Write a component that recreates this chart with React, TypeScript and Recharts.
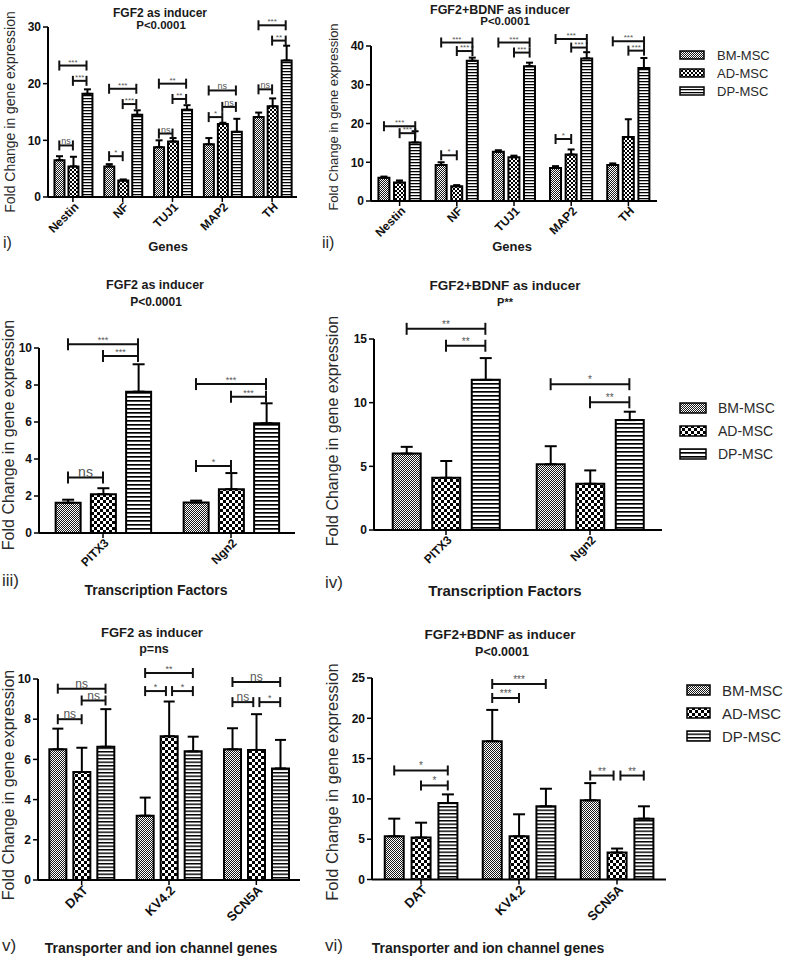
import React from 'react';
import { BarChart, Bar, XAxis, YAxis, ErrorBar, ReferenceLine } from 'recharts';

const FONT = '"Liberation Sans", Arial, Helvetica, sans-serif';
const series = ['BM-MSC', 'AD-MSC', 'DP-MSC'];
const keys = ['bm', 'ad', 'dp'];

// i) FGF2, neuronal genes
const genes = ['Nestin', 'NF', 'TUJ1', 'MAP2', 'TH'];
const g1Bm = [6.5, 5.4, 8.8, 9.3, 14.1];
const g1BmErr = [0.7, 0.4, 1.2, 1.1, 0.8];
const g1Ad = [5.4, 2.9, 9.8, 12.9, 16.0];
const g1AdErr = [1.7, 0.2, 0.6, 0.2, 1.4];
const g1Dp = [18.2, 14.5, 15.4, 11.5, 24.1];
const g1DpErr = [0.8, 0.8, 0.8, 2.3, 2.6];
const g1Ticks = [0, 10, 20, 30];
// [category, from bar, to bar, height, label]
const g1Sig: any[] = [
  [0, 0, 1, 9.1, 'ns'], [0, 0, 2, 23.2, '***'], [0, 1, 2, 20.5, '***'],
  [1, 0, 1, 7.2, '*'], [1, 0, 2, 19.1, '***'], [1, 1, 2, 16.4, '***'],
  [2, 0, 1, 11.2, 'ns'], [2, 0, 2, 20, '**'], [2, 1, 2, 17.3, '**'],
  [3, 0, 1, 14.1, '*'], [3, 0, 2, 18.8, 'ns'], [3, 1, 2, 15.9, 'ns'],
  [4, 0, 1, 19, 'ns'], [4, 0, 2, 30.3, '***'], [4, 1, 2, 27.6, '**'],
];

// ii) FGF2+BDNF, neuronal genes
const g2Bm = [6.0, 9.3, 12.7, 8.5, 9.3];
const g2BmErr = [0.3, 0.7, 0.4, 0.5, 0.4];
const g2Ad = [4.8, 3.8, 11.3, 12.0, 16.5];
const g2AdErr = [0.5, 0.3, 0.4, 1.3, 4.6];
const g2Dp = [15.1, 36.2, 34.8, 36.8, 34.3];
const g2DpErr = [2.9, 0.8, 0.9, 1.6, 2.6];
const g2Ticks = [0, 10, 20, 30, 40];
const g2Sig: any[] = [
  [0, 0, 2, 19.3, '***'], [0, 1, 2, 17.5, '***'],
  [1, 0, 1, 11.8, '*'], [1, 0, 2, 40.9, '***'], [1, 1, 2, 38.7, '***'],
  [2, 0, 2, 40.9, '***'], [2, 1, 2, 38.3, '***'],
  [3, 0, 1, 16, '*'], [3, 0, 2, 41.8, '***'], [3, 1, 2, 39.6, '***'],
  [4, 0, 2, 41.2, '***'], [4, 1, 2, 38.8, '***'],
];

// iii) FGF2, transcription factors
const tfs = ['PITX3', 'Ngn2'];
const t1Bm = [1.64, 1.65];
const t1BmErr = [0.16, 0.1];
const t1Ad = [2.1, 2.37];
const t1AdErr = [0.32, 0.87];
const t1Dp = [7.64, 5.93];
const t1DpErr = [1.48, 1.08];
const t1Ticks = [0, 2, 4, 6, 8, 10];
const t1Sig: any[] = [
  [0, 0, 1, 3.0, 'ns'], [0, 0, 2, 10.2, '***'], [0, 1, 2, 9.57, '***'],
  [1, 0, 1, 3.62, '*'], [1, 0, 2, 8.05, '***'], [1, 1, 2, 7.37, '***'],
];

// iv) FGF2+BDNF, transcription factors
const t2Bm = [6.0, 5.16];
const t2BmErr = [0.53, 1.42];
const t2Ad = [4.1, 3.63];
const t2AdErr = [1.32, 1.05];
const t2Dp = [11.79, 8.63];
const t2DpErr = [1.71, 0.66];
const t2Ticks = [0, 5, 10, 15];
const t2Sig: any[] = [
  [0, 0, 2, 15.8, '**'], [0, 1, 2, 14.47, '**'],
  [1, 0, 2, 11.45, '*'], [1, 1, 2, 10.03, '**'],
];

// v) FGF2, transporter and ion channel genes
const ions = ['DAT', 'KV4.2', 'SCN5A'];
const c1Bm = [6.5, 3.2, 6.5];
const c1BmErr = [1.03, 0.9, 1.05];
const c1Ad = [5.37, 7.15, 6.47];
const c1AdErr = [1.21, 1.73, 1.78];
const c1Dp = [6.63, 6.4, 5.55];
const c1DpErr = [1.87, 0.73, 1.42];
const c1Ticks = [0, 2, 4, 6, 8, 10];
const c1Sig: any[] = [
  [0, 0, 1, 8.0, 'ns'], [0, 0, 2, 9.52, 'ns'], [0, 1, 2, 8.93, 'ns'],
  [1, 0, 2, 10.3, '**'], [1, 0, 1, 9.4, '*'], [1, 1, 2, 9.4, '*'],
  [2, 0, 2, 9.85, 'ns'], [2, 0, 1, 8.85, 'ns'], [2, 1, 2, 8.85, '*'],
];

// vi) FGF2+BDNF, transporter and ion channel genes
const c2Bm = [5.36, 17.16, 9.82];
const c2BmErr = [2.19, 3.88, 2.14];
const c2Ad = [5.2, 5.36, 3.34];
const c2AdErr = [1.85, 2.73, 0.5];
const c2Dp = [9.49, 9.08, 7.55];
const c2DpErr = [1.07, 2.18, 1.53];
const c2Ticks = [0, 5, 10, 15, 20, 25];
const c2Sig: any[] = [
  [0, 0, 2, 13.53, '*'], [0, 1, 2, 11.67, '*'],
  [1, 0, 2, 24.26, '***'], [1, 0, 1, 22.52, '***'],
  [2, 0, 1, 12.9, '**'], [2, 1, 2, 12.9, '**'],
];

const rowsOf = (cats: string[], vals: number[][], errs: number[][]) =>
  cats.map((name, i) => {
    const r: any = { name };
    keys.forEach((k, s) => {
      r[k] = vals[s][i];
      r[k + 'Err'] = [0, errs[s][i]];
    });
    return r;
  });

// bar layout inside a category band
const CAT_GAP = 0.13;
const BAR_GAP = 0.08;
const BAR_W = (1 - 2 * CAT_GAP - 2 * BAR_GAP) / 3;
const POS = [0, 1, 2].map((k) => CAT_GAP + BAR_W / 2 + k * (BAR_W + BAR_GAP));

const Patterns = ({ id, check, stripe }: any) => (
  <>
    <pattern id={`${id}-bm`} patternUnits="userSpaceOnUse" width={2} height={2}>
      <rect width={2} height={2} fill="#fff" />
      <rect width={1} height={1} fill="#1a1a1a" />
      <rect x={1} y={1} width={1} height={1} fill="#1a1a1a" />
    </pattern>
    <pattern id={`${id}-ad`} patternUnits="userSpaceOnUse" width={check * 2} height={check * 2}>
      <rect width={check * 2} height={check * 2} fill="#fff" />
      <rect width={check} height={check} fill="#000" />
      <rect x={check} y={check} width={check} height={check} fill="#000" />
    </pattern>
    <pattern id={`${id}-dp`} patternUnits="userSpaceOnUse" width={4} height={stripe}>
      <rect width={4} height={stripe} fill="#fff" />
      <rect width={4} height={stripe * 0.42} fill="#000" />
    </pattern>
  </>
);

const PAT = [
  { id: 'pa', check: 2, stripe: 3 },
  { id: 'pb', check: 3, stripe: 4 },
  { id: 'pc', check: 3, stripe: 3.5 },
];

const CatTick = (props: any) => {
  const { x, y, payload, fs } = props;
  return (
    <g transform={`translate(${x},${y})`}>
      <text
        x={0}
        y={0}
        dy={fs * 0.6}
        dx={2}
        textAnchor="end"
        transform="rotate(-45)"
        fontSize={fs}
        fontWeight="bold"
        fill="#111"
        fontFamily={FONT}
      >
        {payload.value}
      </text>
    </g>
  );
};

const Panel = ({ box, cats, rows, ticks, sig, pat, capW, tickFs, starFs, nsFs, capPx }: any) => {
  const YW = 32;
  const MT = 40;
  const XH = 60;
  const MR = 6;
  const n = cats.length;
  // hidden helper axis spans the plot width with domain [0, n - 1]
  const toNum = (v: number) => (v * (n - 1)) / n;
  const max = ticks[ticks.length - 1];
  const capH = capPx / (box.h / max);
  const lines: any[] = [];
  sig.forEach(([c, a, b, y, text]: any, k: number) => {
    const twin = sig.some(
      (o: any, j: number) => j !== k && o[0] === c && Math.abs(o[3] - y) < 0.01
    );
    const ins = twin ? 0.035 : 0;
    const x1 = toNum(c + POS[a] + (a === 1 ? ins : 0));
    const x2 = toNum(c + POS[b] - (b === 1 ? ins : 0));
    const common = {
      xAxisId: 'num',
      stroke: '#111',
      strokeWidth: 2,
      ifOverflow: 'visible' as const,
    };
    lines.push(
      <ReferenceLine
        key={`h${k}`}
        {...common}
        segment={[{ x: x1, y }, { x: x2, y }]}
        label={{
          value: text,
          position: 'top',
          offset: 1,
          fill: '#555',
          stroke: 'none',
          fontSize: text === 'ns' ? nsFs : starFs,
          fontFamily: FONT,
        }}
      />
    );
    lines.push(
      <ReferenceLine
        key={`l${k}`}
        {...common}
        segment={[{ x: x1, y: y - capH }, { x: x1, y: y + capH }]}
      />
    );
    lines.push(
      <ReferenceLine
        key={`r${k}`}
        {...common}
        segment={[{ x: x2, y: y - capH }, { x: x2, y: y + capH }]}
      />
    );
  });
  return (
    <div style={{ position: 'absolute', left: box.x - YW, top: box.y - MT }}>
      <BarChart
        width={YW + box.w + MR}
        height={MT + box.h + XH}
        data={rows}
        margin={{ top: MT, right: MR, left: 0, bottom: 0 }}
        barCategoryGap={`${CAT_GAP * 100}%`}
        barGap={`${BAR_GAP * 100}%`}
      >
        <XAxis
          xAxisId="cat"
          dataKey="name"
          height={XH}
          interval={0}
          axisLine={{ stroke: '#000', strokeWidth: 2 }}
          tickLine={{ stroke: '#000', strokeWidth: 1.5 }}
          tickSize={5}
          tick={(p: any) => <CatTick {...p} fs={tickFs} />}
        />
        <XAxis xAxisId="num" type="number" domain={[0, n - 1]} allowDataOverflow hide />
        <YAxis
          width={YW}
          domain={[0, max]}
          ticks={ticks}
          interval={0}
          allowDataOverflow
          axisLine={{ stroke: '#000', strokeWidth: 2 }}
          tickLine={{ stroke: '#000', strokeWidth: 1.5 }}
          tickSize={5}
          tick={{ fill: '#111', fontSize: 12, fontWeight: 'bold', fontFamily: FONT }}
        />
        {keys.map((k) => (
          <Bar
            key={k}
            xAxisId="cat"
            dataKey={k}
            name={series[keys.indexOf(k)]}
            fill={`url(#${pat}-${k})`}
            stroke="#000"
            strokeWidth={2}
            isAnimationActive={false}
          >
            <ErrorBar
              dataKey={k + 'Err'}
              width={capW}
              stroke="#000"
              strokeWidth={2}
              direction="y"
            />
          </Bar>
        ))}
        {lines}
      </BarChart>
    </div>
  );
};

const Txt = ({ x, y, size, bold, rot, left, children }: any) => (
  <div
    style={{
      position: 'absolute',
      left: x,
      top: y,
      transform: `${left ? 'translate(0,-50%)' : 'translate(-50%,-50%)'}${rot ? ' rotate(-90deg)' : ''}`,
      fontSize: size,
      fontWeight: bold ? 'bold' : 'normal',
      fontFamily: FONT,
      whiteSpace: 'nowrap',
      color: bold ? '#1a1a1a' : '#2a2a2a',
      lineHeight: 1,
    }}
  >
    {children}
  </div>
);

const SeriesLegend = ({ x, y, gap, sw, sh, tx, size, pat }: any) => (
  <>
    {keys.map((k, i) => (
      <React.Fragment key={k}>
        <svg
          width={sw + 2}
          height={sh + 2}
          style={{ position: 'absolute', left: x - 1, top: y + i * gap - sh / 2 - 1 }}
        >
          <rect x={1} y={1} width={sw} height={sh} fill={`url(#${pat}-${k})`} stroke="#000" strokeWidth={1.5} />
        </svg>
        <Txt x={tx} y={y + i * gap} size={size} left>
          {series[i]}
        </Txt>
      </React.Fragment>
    ))}
  </>
);

const yLabel = 'Fold Change in gene expression';

export default function App() {
  return (
    <div
      style={{
        position: 'absolute',
        left: 0,
        top: 0,
        width: 787,
        height: 960,
        background: '#fff',
        overflow: 'hidden',
      }}
    >
      <svg width={0} height={0} style={{ position: 'absolute' }}>
        <defs>
          {PAT.map((p) => (
            <Patterns key={p.id} {...p} />
          ))}
        </defs>
      </svg>

      {/* i */}
      <Panel
        box={{ x: 48, y: 27, w: 249, h: 170 }}
        cats={genes}
        rows={rowsOf(genes, [g1Bm, g1Ad, g1Dp], [g1BmErr, g1AdErr, g1DpErr])}
        ticks={g1Ticks}
        sig={g1Sig}
        pat="pa"
        capW={3.5}
        tickFs={12}
        starFs={8}
        nsFs={9}
        capPx={5}
      />
      <Txt x={160} y={13} size={12} bold>FGF2 as inducer</Txt>
      <Txt x={161} y={26} size={11.5} bold>P&lt;0.0001</Txt>
      <Txt x={10} y={112} size={14} rot>{yLabel}</Txt>
      <Txt x={168} y={246} size={13} bold>Genes</Txt>
      <Txt x={3} y={243} size={16} left>i)</Txt>

      {/* ii */}
      <Panel
        box={{ x: 371, y: 46, w: 286, h: 155 }}
        cats={genes}
        rows={rowsOf(genes, [g2Bm, g2Ad, g2Dp], [g2BmErr, g2AdErr, g2DpErr])}
        ticks={g2Ticks}
        sig={g2Sig}
        pat="pa"
        capW={3.5}
        tickFs={12}
        starFs={8}
        nsFs={9}
        capPx={5}
      />
      <Txt x={500} y={10} size={12.5} bold>FGF2+BDNF as inducer</Txt>
      <Txt x={505} y={22} size={11.5} bold>P&lt;0.0001</Txt>
      <Txt x={333} y={117} size={13} rot>{yLabel}</Txt>
      <Txt x={512} y={246} size={13} bold>Genes</Txt>
      <Txt x={322} y={243} size={16} left>ii)</Txt>
      <SeriesLegend x={680} y={55} gap={18} sw={24} sh={8} tx={717} size={13} pat="pa" />

      {/* iii */}
      <Panel
        box={{ x: 39, y: 348, w: 256, h: 185 }}
        cats={tfs}
        rows={rowsOf(tfs, [t1Bm, t1Ad, t1Dp], [t1BmErr, t1AdErr, t1DpErr])}
        ticks={t1Ticks}
        sig={t1Sig}
        pat="pb"
        capW={6}
        tickFs={12}
        starFs={9}
        nsFs={14}
        capPx={6}
      />
      <Txt x={155} y={285} size={12.5} bold>FGF2 as inducer</Txt>
      <Txt x={156} y={302} size={12} bold>P&lt;0.0001</Txt>
      <Txt x={9} y={435} size={16} rot>{yLabel}</Txt>
      <Txt x={156} y={590} size={14} bold>Transcription Factors</Txt>
      <Txt x={2} y={580} size={17} left>iii)</Txt>

      {/* iv */}
      <Panel
        box={{ x: 374, y: 338.5, w: 288, h: 191 }}
        cats={tfs}
        rows={rowsOf(tfs, [t2Bm, t2Ad, t2Dp], [t2BmErr, t2AdErr, t2DpErr])}
        ticks={t2Ticks}
        sig={t2Sig}
        pat="pb"
        capW={6}
        tickFs={12}
        starFs={10}
        nsFs={12}
        capPx={6}
      />
      <Txt x={505} y={286} size={13.5} bold>FGF2+BDNF as inducer</Txt>
      <Txt x={505} y={302} size={11} bold>P**</Txt>
      <Txt x={333} y={431} size={16} rot>{yLabel}</Txt>
      <Txt x={505} y={590} size={15} bold>Transcription Factors</Txt>
      <Txt x={325} y={582} size={17} left>iv)</Txt>
      <SeriesLegend x={680} y={408} gap={23} sw={26} sh={10} tx={718} size={14} pat="pb" />

      {/* v */}
      <Panel
        box={{ x: 38, y: 679, w: 262, h: 201 }}
        cats={ions}
        rows={rowsOf(ions, [c1Bm, c1Ad, c1Dp], [c1BmErr, c1AdErr, c1DpErr])}
        ticks={c1Ticks}
        sig={c1Sig}
        pat="pc"
        capW={5.5}
        tickFs={13}
        starFs={9}
        nsFs={12}
        capPx={5}
      />
      <Txt x={152} y={632} size={13} bold>FGF2 as inducer</Txt>
      <Txt x={154} y={649} size={12.5} bold>p=ns</Txt>
      <Txt x={9} y={785} size={16} rot>{yLabel}</Txt>
      <Txt x={161} y={948} size={14} bold>Transporter and ion channel genes</Txt>
      <Txt x={2} y={945} size={17} left>v)</Txt>

      {/* vi */}
      <Panel
        box={{ x: 372, y: 677.5, w: 294, h: 201.5 }}
        cats={ions}
        rows={rowsOf(ions, [c2Bm, c2Ad, c2Dp], [c2BmErr, c2AdErr, c2DpErr])}
        ticks={c2Ticks}
        sig={c2Sig}
        pat="pc"
        capW={6}
        tickFs={13}
        starFs={10}
        nsFs={12}
        capPx={5}
      />
      <Txt x={500} y={635} size={13.5} bold>FGF2+BDNF as inducer</Txt>
      <Txt x={502} y={652} size={12.5} bold>P&lt;0.0001</Txt>
      <Txt x={332} y={782} size={16.5} rot>{yLabel}</Txt>
      <Txt x={488} y={948} size={14} bold>Transporter and ion channel genes</Txt>
      <Txt x={325} y={945} size={17} left>vi)</Txt>
      <SeriesLegend x={687} y={690} gap={23} sw={23} sh={10} tx={722} size={15} pat="pc" />
    </div>
  );
}
